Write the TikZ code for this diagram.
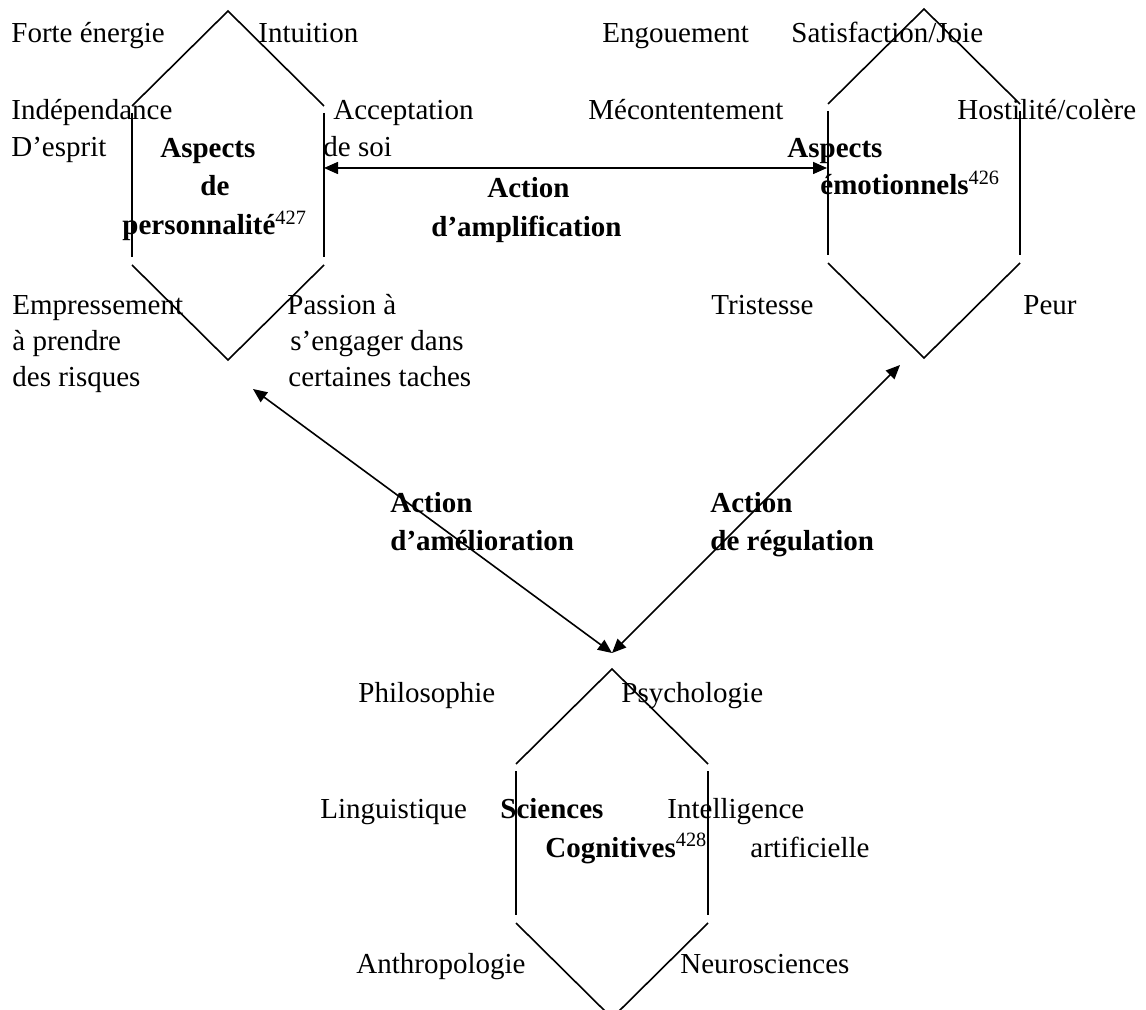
\documentclass[tikz,border=0pt]{standalone}
\usepackage{fontspec}
\setmainfont{Liberation Serif}
\usetikzlibrary{arrows.meta}
\begin{document}
\begin{tikzpicture}[x=0.5pt, y=-0.5pt, every node/.style={font=\fontsize{14.5}{17}\selectfont},
  txt/.style={anchor=base west, inner sep=0pt},
  ttl/.style={txt, font=\fontsize{14.5}{17}\selectfont\bfseries},
  hexline/.style={line width=0.8pt},
  link/.style={{Triangle[length=7pt,width=6pt]}-{Triangle[length=7pt,width=6pt]}, line width=0.8pt}]
\useasboundingbox (0,0) rectangle (1146,1010);
\foreach \cx/\ty in {228/11, 924/9, 612/669} {
  \draw[hexline] ({\cx-96},{\ty+95}) -- (\cx,\ty) -- ({\cx+96},{\ty+95});
  \draw[hexline] ({\cx-96},{\ty+102}) -- ({\cx-96},{\ty+246});
  \draw[hexline] ({\cx+96},{\ty+102}) -- ({\cx+96},{\ty+246});
  \draw[hexline] ({\cx-96},{\ty+254}) -- (\cx,{\ty+349}) -- ({\cx+96},{\ty+254});
}
\node[txt] (forte) at (11,43) {Forte énergie};
\node[txt] (intuition) at (258,43) {Intuition};
\node[txt] (indep) at (11,120) {Indépendance};
\node[txt] (esprit) at (11,157) {D’esprit};
\node[txt] (accept) at (333,120) {Acceptation};
\node[txt] (soi) at (323,157) {de soi};
\node[txt] (empress) at (12,315) {Empressement};
\node[txt] (prendre) at (12,351) {à prendre};
\node[txt] (risques) at (12,387) {des risques};
\node[txt] (passion) at (287,315) {Passion à};
\node[txt] (engager) at (290,351) {s’engager dans};
\node[txt] (taches) at (288,387) {certaines taches};
\node[ttl] (persoA) at (160,158) {Aspects};
\node[ttl] (persoB) at (200,196) {de};
\node[ttl] (persoC) at (122,235) {personnalité\textsuperscript{\mdseries 427}};
\node[txt] (engouement) at (602,43) {Engouement};
\node[txt] (satisf) at (791,43) {Satisfaction/Joie};
\node[txt] (mecont) at (588,120) {Mécontentement};
\node[txt] (hostil) at (957,120) {Hostilité/colère};
\node[ttl] (emoA) at (787,158) {Aspects};
\node[ttl] (emoB) at (820,195) {émotionnels\textsuperscript{\mdseries 426}};
\node[txt] (tristesse) at (711,315) {Tristesse};
\node[txt] (peur) at (1023,315) {Peur};
\node[txt] (philo) at (358,702) {Philosophie};
\node[txt] (psycho) at (621,702) {Psychologie};
\node[txt] (linguist) at (320,818) {Linguistique};
\node[ttl] (cogA) at (500,818) {Sciences};
\node[txt] (intel) at (667,818) {Intelligence};
\node[ttl] (cogB) at (545,857) {Cognitives\textsuperscript{\mdseries 428}};
\node[txt] (artif) at (750,857) {artificielle};
\node[txt] (anthropo) at (356,973) {Anthropologie};
\node[txt] (neuro) at (680,973) {Neurosciences};
\node[ttl] (amplA) at (487,198) {Action};
\node[ttl] (amplB) at (431,237) {d’amplification};
\node[ttl] (amelA) at (390,513) {Action};
\node[ttl] (amelB) at (390,551) {d’amélioration};
\node[ttl] (regulA) at (710,513) {Action};
\node[ttl] (regulB) at (710,551) {de régulation};
\coordinate (persoE) at (324,168);
\coordinate (emoW) at (827,168);
\coordinate (persoS) at (253,389);
\coordinate (emoS) at (900,365);
\coordinate (cogN) at (612,653);
\draw[link] (persoE) -- (emoW);
\draw[link] (persoS) -- (cogN);
\draw[link] (emoS) -- (cogN);
\end{tikzpicture}
\end{document}
